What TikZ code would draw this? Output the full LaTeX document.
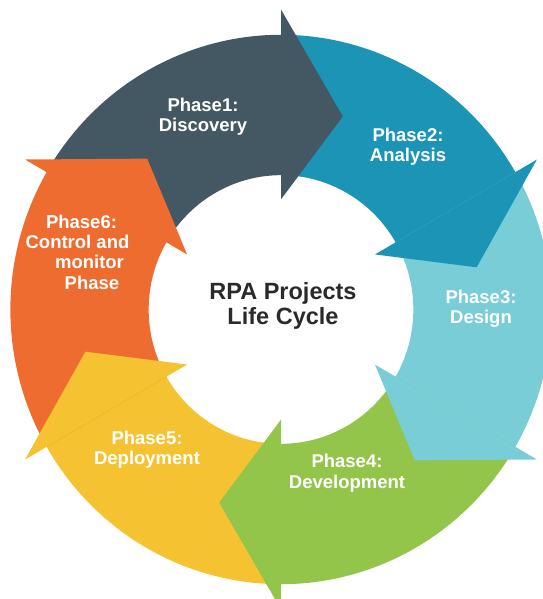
\documentclass[tikz,border=0pt]{standalone}
\usepackage{fontspec}
\setmainfont{Liberation Sans}

\definecolor{phOne}{HTML}{445864}
\definecolor{phTwo}{HTML}{1B94B5}
\definecolor{phThree}{HTML}{78CDD6}
\definecolor{phFour}{HTML}{93C54B}
\definecolor{phFive}{HTML}{F5C331}
\definecolor{phSix}{HTML}{EE6C30}
\definecolor{title}{HTML}{2A2A2A}

% multi-line labels are placed by the baseline of their last line
\tikzset{
  phaselabel/.style={anchor=base, align=center, text=white,
    font=\bfseries\fontsize{18.5}{20.3}\selectfont, inner sep=0pt},
  titlelabel/.style={anchor=base, align=center, text=title,
    font=\bfseries\fontsize{23.5}{25.7}\selectfont, inner sep=0pt}
}

% ring geometry (units: pt)
\def\Ro{272}   % outer radius of the band
\def\Ri{133}   % inner radius of the band
\def\Ho{297}   % outer corner of an arrow head
\def\Hi{109}   % inner corner of an arrow head
\def\Ht{201}   % radius of the head tip
\def\Hs{18}    % angular length of a head

\begin{document}
\begin{tikzpicture}[x=1pt,y=1pt]
  \useasboundingbox (0,0) rectangle (542,599);

  \begin{scope}[shift={(281,289.5)}, xscale=0.995, yscale=1.01]
    % band segments: each runs from its head base (angle) to its tail (angle+60)
    \foreach \a/\c in {90/phOne,30/phTwo,-30/phThree,-90/phFour,-150/phFive,150/phSix}{
      \fill[\c] (\a-1:\Ro) arc[start angle=\a-1, end angle=\a+60, radius=\Ro]
        -- (\a+60:\Ri) arc[start angle=\a+60, end angle=\a-1, radius=\Ri] -- cycle;
    }
    % arrow heads, laid over the start of the following segment
    \foreach \a/\c in {90/phOne,30/phTwo,-30/phThree,-90/phFour,-150/phFive,150/phSix}{
      \fill[\c] (\a:\Hi) -- (\a:\Ho) -- (\a-\Hs:\Ht) -- cycle;
    }
  \end{scope}

  \node[phaselabel] (p1) at (203,467.3) {Phase1:\\Discovery};
  \node[phaselabel] (p2) at (408,437.3) {Phase2:\\Analysis};
  \node[phaselabel] (p3) at (481,275) {Phase3:\\Design};
  \node[phaselabel] (p4) at (347,110.7) {Phase4:\\Development};
  \node[phaselabel] (p5) at (147,134) {Phase5:\\Deployment};
  \node[phaselabel] (p6) at (77.5,309.7)
    {\hspace*{8pt}Phase6:\\Control and\\\hspace*{24pt}monitor\\\hspace*{29pt}Phase};

  \node[titlelabel] (title) at (283,274) {RPA Projects\\Life Cycle};
\end{tikzpicture}
\end{document}
